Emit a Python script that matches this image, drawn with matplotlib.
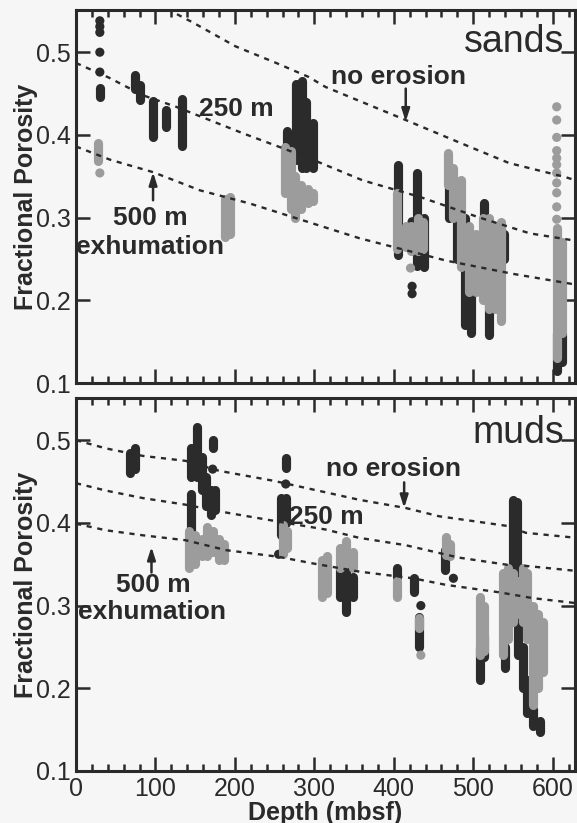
import matplotlib
matplotlib.use('Agg')
import matplotlib.pyplot as plt
from matplotlib.ticker import MultipleLocator

plt.rcParams['font.family'] = ['Liberation Sans', 'DejaVu Sans']

DARK = '#2b2b2b'
GRAY = '#9c9c9c'
INK = '#2a2a2a'

# ---- sands panel: columns of overlapping points (depth, top, bottom) ----
sand_dark_cols = [
    (30, 0.457, 0.446), (74, 0.472, 0.455), (80, 0.46, 0.442),
    (97, 0.441, 0.397), (113, 0.43, 0.41), (134, 0.443, 0.387),
    (265, 0.405, 0.355), (277, 0.462, 0.37), (284, 0.465, 0.36),
    (290, 0.44, 0.36), (298, 0.415, 0.36),
    (405, 0.364, 0.255), (429, 0.354, 0.242), (438, 0.30, 0.24),
    (470, 0.36, 0.30), (480, 0.33, 0.25), (490, 0.30, 0.17),
    (497, 0.28, 0.16), (513, 0.318, 0.23), (520, 0.21, 0.158),
    (539, 0.28, 0.25), (605, 0.16, 0.115), (612, 0.16, 0.125),
]
sand_dark_dots = [
    (30, 0.538), (30, 0.531), (30, 0.524), (30, 0.50), (30, 0.476),
    (423, 0.295), (423, 0.217), (423, 0.208),
]
sand_gray_cols = [
    (28, 0.39, 0.368), (187, 0.322, 0.276), (194, 0.325, 0.28),
    (263, 0.385, 0.33), (270, 0.38, 0.31), (276, 0.35, 0.30),
    (283, 0.34, 0.31), (292, 0.335, 0.318), (298, 0.33, 0.32),
    (404, 0.33, 0.262), (415, 0.29, 0.265), (422, 0.29, 0.26),
    (430, 0.30, 0.26), (437, 0.295, 0.262),
    (468, 0.378, 0.34), (475, 0.36, 0.30), (485, 0.345, 0.24),
    (495, 0.29, 0.21), (503, 0.28, 0.21), (512, 0.30, 0.20),
    (520, 0.30, 0.19), (527, 0.29, 0.19), (535, 0.295, 0.175),
    (605, 0.287, 0.13), (612, 0.27, 0.16),
]
sand_gray_dots = [
    (30, 0.354), (421, 0.239),
    (605, 0.434), (605, 0.418), (605, 0.397), (605, 0.381), (605, 0.372),
    (605, 0.364), (605, 0.354), (605, 0.342), (605, 0.33), (605, 0.313),
    (605, 0.298),
]

# ---- muds panel ----
mud_dark_cols = [
    (68, 0.485, 0.46), (74, 0.49, 0.465),
    (145, 0.435, 0.39), (145, 0.49, 0.455), (152, 0.516, 0.455),
    (158, 0.48, 0.44), (163, 0.455, 0.42), (170, 0.44, 0.41),
    (175, 0.44, 0.415), (172, 0.50, 0.49),
    (258, 0.43, 0.385), (264, 0.478, 0.466), (264, 0.43, 0.40),
    (332, 0.345, 0.31), (340, 0.35, 0.292), (348, 0.335, 0.31),
    (404, 0.345, 0.335), (426, 0.333, 0.317), (432, 0.286, 0.25),
    (464, 0.367, 0.343),
    (508, 0.25, 0.21), (514, 0.265, 0.238), (540, 0.25, 0.225),
    (550, 0.428, 0.28), (555, 0.425, 0.29), (556, 0.29, 0.24),
    (562, 0.25, 0.20), (568, 0.21, 0.17), (575, 0.175, 0.155),
    (584, 0.16, 0.147),
]
mud_dark_dots = [
    (172, 0.465), (264, 0.447), (255, 0.362), (434, 0.30), (475, 0.333),
]
mud_gray_cols = [
    (142, 0.39, 0.345), (150, 0.385, 0.35), (158, 0.38, 0.36),
    (165, 0.395, 0.36), (172, 0.39, 0.365), (180, 0.38, 0.355),
    (186, 0.375, 0.355),
    (260, 0.397, 0.362), (266, 0.39, 0.37),
    (310, 0.355, 0.31), (316, 0.36, 0.315),
    (332, 0.37, 0.345), (340, 0.378, 0.35), (348, 0.365, 0.345),
    (404, 0.33, 0.31), (432, 0.285, 0.273),
    (466, 0.383, 0.361), (471, 0.375, 0.36),
    (508, 0.31, 0.24), (513, 0.30, 0.245),
    (537, 0.34, 0.24), (544, 0.345, 0.26), (550, 0.34, 0.28),
    (557, 0.33, 0.29), (563, 0.345, 0.28), (568, 0.34, 0.26),
    (575, 0.30, 0.18), (582, 0.29, 0.20), (588, 0.28, 0.22),
]
mud_gray_dots = [(434, 0.24)]

# ---- dashed model curves (depth, porosity) ----
sand_no_erosion = [(115, 0.552), (147, 0.536), (201, 0.507), (252, 0.487),
                   (293, 0.47), (314, 0.458), (415, 0.418), (482, 0.391),
                   (545, 0.366), (616, 0.349), (629, 0.345)]
sand_250 = [(0, 0.487), (42, 0.469), (84, 0.448), (126, 0.434),
            (168, 0.418), (210, 0.402), (260, 0.384), (298, 0.37),
            (361, 0.345), (433, 0.325), (508, 0.30), (571, 0.281),
            (629, 0.272)]
sand_500 = [(0, 0.386), (43, 0.37), (97, 0.355), (156, 0.333),
            (219, 0.317), (265, 0.303), (357, 0.275), (466, 0.248),
            (550, 0.232), (629, 0.219)]

mud_no_erosion = [(0, 0.50), (38, 0.49), (84, 0.481), (138, 0.475),
                  (180, 0.463), (248, 0.451), (314, 0.437), (356, 0.428),
                  (415, 0.418), (457, 0.408), (545, 0.396), (566, 0.388),
                  (629, 0.382)]
mud_250 = [(0, 0.448), (38, 0.439), (84, 0.43), (138, 0.422),
           (180, 0.414), (252, 0.402), (314, 0.392), (356, 0.382),
           (415, 0.373), (482, 0.358), (545, 0.349), (566, 0.348),
           (629, 0.342)]
mud_500 = [(0, 0.399), (38, 0.391), (84, 0.385), (138, 0.379),
           (189, 0.367), (255, 0.359), (298, 0.351), (357, 0.341),
           (424, 0.333), (466, 0.325), (533, 0.316), (575, 0.309),
           (629, 0.303)]

X_MAX = 628
Y_MIN, Y_MAX = 0.1, 0.551
PT_W = 6.6   # point diameter in points


def draw_points(ax, cols, dots, color, z):
    for depth, top, bottom in cols:
        ax.plot([depth, depth], [top, bottom], color=color, lw=PT_W,
                solid_capstyle='round', zorder=z)
    if dots:
        ax.scatter([d[0] for d in dots], [d[1] for d in dots], s=PT_W ** 2,
                   color=color, edgecolors='none', zorder=z)


def draw_curve(ax, pts):
    ax.plot([p[0] for p in pts], [p[1] for p in pts], color=INK, lw=1.7,
            ls=(0, (2.2, 2.4)), zorder=4)


def arrow(ax, x, y0, y1):
    ax.annotate('', xy=(x, y1), xytext=(x, y0),
                arrowprops=dict(arrowstyle='-|>,head_length=0.75,head_width=0.24',
                                color=INK, lw=1.8, shrinkA=0, shrinkB=0),
                zorder=6)


def style_axes(ax):
    ax.set_xlim(0, X_MAX)
    ax.set_ylim(Y_MIN, Y_MAX)
    ax.xaxis.set_major_locator(MultipleLocator(100))
    ax.xaxis.set_minor_locator(MultipleLocator(20))
    ax.yaxis.set_major_locator(MultipleLocator(0.1))
    ax.tick_params(which='both', direction='in', top=True, right=True,
                   width=1.8, color=INK, labelsize=18, labelcolor=INK, pad=4)
    ax.tick_params(which='major', length=10)
    ax.tick_params(which='minor', length=5)
    ax.yaxis.set_major_formatter(plt.FuncFormatter(lambda v, p: f'{v:.1f}'))
    for sp in ax.spines.values():
        sp.set_linewidth(2.2)
        sp.set_color(INK)
    ax.set_facecolor('none')
    ax.set_ylabel('Fractional Porosity', fontsize=18, fontweight='bold',
                  color=INK, labelpad=-1.5)


bold = dict(fontsize=19, fontweight='bold', color=INK, zorder=7)

fig = plt.figure(figsize=(5.77, 8.23), dpi=100, facecolor='#f6f6f6')
ax1 = fig.add_axes([0.1317, 0.5346, 0.8648, 0.4532])
ax2 = fig.add_axes([0.1317, 0.0632, 0.8648, 0.4532])

# sands
draw_points(ax1, sand_dark_cols, sand_dark_dots, DARK, 2)
draw_points(ax1, sand_gray_cols, sand_gray_dots, GRAY, 3)
for c in (sand_no_erosion, sand_250, sand_500):
    draw_curve(ax1, c)
style_axes(ax1)
ax1.tick_params(labelbottom=False)
ax1.text(614, 0.5, 'sands', fontsize=27, color=INK, ha='right',
         va='baseline')
ax1.text(406, 0.461, 'no erosion', ha='center', va='baseline', **bold)
arrow(ax1, 415, 0.456, 0.416)
ax1.text(155, 0.431, '250 m', ha='left', va='center', **bold)
ax1.text(94, 0.30, '500 m', ha='center', va='center', **bold)
ax1.text(93, 0.264, 'exhumation', ha='center', va='center', **bold)
arrow(ax1, 97, 0.321, 0.355)

# muds
draw_points(ax2, mud_dark_cols, mud_dark_dots, DARK, 2)
draw_points(ax2, mud_gray_cols, mud_gray_dots, GRAY, 3)
for c in (mud_no_erosion, mud_250, mud_500):
    draw_curve(ax2, c)
style_axes(ax2)
ax2.set_xlabel('Depth (mbsf)', fontsize=18, fontweight='bold', color=INK,
               labelpad=0)
ax2.text(614, 0.497, 'muds', fontsize=27, color=INK, ha='right',
         va='baseline')
ax2.text(400, 0.465, 'no erosion', ha='center', va='center', **bold)
arrow(ax2, 413, 0.449, 0.418)
ax2.text(268, 0.407, '250 m', ha='left', va='center', **bold)
ax2.text(97, 0.325, '500 m', ha='center', va='center', **bold)
ax2.text(96, 0.292, 'exhumation', ha='center', va='center', **bold)
arrow(ax2, 95, 0.34, 0.371)

fig.savefig('out.png', dpi=100, facecolor=fig.get_facecolor())
